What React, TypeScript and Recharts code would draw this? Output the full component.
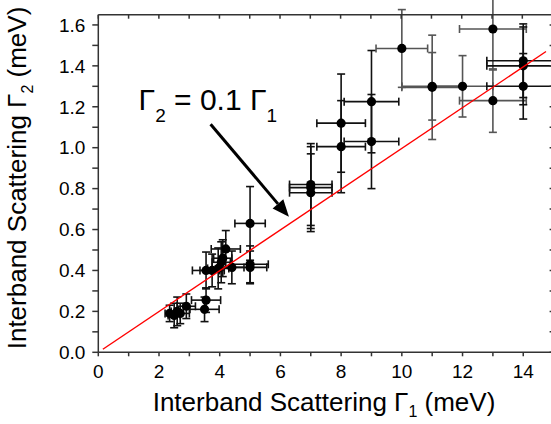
import React from "react";
import { ScatterChart, Scatter, XAxis, YAxis, ErrorBar, ReferenceLine } from "recharts";

// measured points: Gamma1 (x), Gamma2 (y), with errors in both directions
const gamma1 = [2.35, 2.5, 2.6, 2.7, 2.9, 3.5, 3.55, 3.55, 3.75, 3.95, 4.05, 4.1, 4.2, 4.4, 5.0, 5.0, 5.0, 7.0, 7.0, 7.0, 8.0, 8.0, 9.0, 9.0, 10.0, 11.0, 11.0, 12.0, 13.0, 13.0, 14.0, 14.0, 14.0];
const gamma2 = [0.19, 0.18, 0.2, 0.19, 0.225, 0.21, 0.255, 0.4, 0.4, 0.41, 0.44, 0.46, 0.505, 0.415, 0.63, 0.43, 0.415, 0.82, 0.805, 0.78, 1.12, 1.005, 1.225, 1.03, 1.485, 1.3, 1.295, 1.3, 1.58, 1.23, 1.425, 1.4, 1.3];
const gamma1Err = [0.15, 0.2, 0.2, 0.3, 0.3, 0.48, 0.48, 0.45, 0.4, 0.35, 0.3, 0.3, 0.48, 0.4, 0.5, 0.6, 0.55, 0.7, 0.7, 0.7, 0.8, 0.8, 0.9, 0.9, 0.85, 1.0, 1.0, 1.0, 1.1, 1.1, 1.2, 1.2, 1.2];
const gamma2Err = [0.04, 0.06, 0.07, 0.05, 0.06, 0.06, 0.06, 0.09, 0.08, 0.1, 0.1, 0.09, 0.09, 0.08, 0.18, 0.09, 0.08, 0.2, 0.2, 0.19, 0.24, 0.225, 0.25, 0.23, 0.19, 0.165, 0.255, 0.15, 0.2, 0.155, 0.18, 0.19, 0.16];
// 1 = error bars drawn black, 0 = drawn grey
const barTone = [1, 1, 1, 1, 1, 1, 1, 1, 1, 1, 1, 1, 1, 1, 1, 1, 1, 1, 1, 1, 1, 1, 1, 1, 0, 0, 0, 0, 0, 0, 1, 1, 1];

// fitted line Gamma2 = 0.1 Gamma1
const fitX = [0.15, 14.75];
const fitY = [0.015, 1.47];

// annotation arrow (data coords)
const arrowFrom = { x: 3.7, y: 1.115 };
const arrowTo = { x: 6.28, y: 0.662 };

const xTicks = [0, 1, 2, 3, 4, 5, 6, 7, 8, 9, 10, 11, 12, 13, 14, 15];
const yTicks = [0, 0.1, 0.2, 0.3, 0.4, 0.5, 0.6, 0.7, 0.8, 0.9, 1.0, 1.1, 1.2, 1.3, 1.4, 1.5, 1.6];
const X_MAX = 15;
const Y_MAX = 1.65;

// plot box geometry
const PLOT_TOP = 14.7;
const PLOT_LEFT = 98.3;
const CHART_W = 560;
const RIGHT_MARGIN = 6.4;
const PLOT_W = CHART_W - RIGHT_MARGIN - 1 - PLOT_LEFT;

const FONT = '"Liberation Sans", Arial, Helvetica, sans-serif';
const AXIS = "#333";

const points = gamma1.map((x, i) => ({ x, y: gamma2[i], xe: gamma1Err[i], ye: gamma2Err[i], tone: barTone[i] }));
const blackPts = points.filter((p) => p.tone === 1);
const greyPts = points.filter((p) => p.tone === 0);
const fitData = fitX.map((x, i) => ({ x, y: fitY[i] }));

const Dot = (p: any) => <circle cx={p.cx} cy={p.cy} r={4.6} fill="#000" />;

const Arrow = (p: any) => {
  const { x1, y1, x2, y2 } = p;
  const ang = Math.atan2(y2 - y1, x2 - x1);
  const L = 17;
  const W = 7;
  const bx = x2 - L * Math.cos(ang);
  const by = y2 - L * Math.sin(ang);
  const px = -Math.sin(ang) * W;
  const py = Math.cos(ang) * W;
  return (
    <g>
      <line x1={x1} y1={y1} x2={bx} y2={by} stroke="#000" strokeWidth={3} />
      <polygon points={`${x2},${y2} ${bx + px},${by + py} ${bx - px},${by - py}`} fill="#000" />
      <text x={x1 - 72} y={y1 - 14} fontFamily={FONT} fontSize={30} fill="#000">
        Γ<tspan dy={12} fontSize={19}>2</tspan>
        <tspan dy={-12}> = 0.1 Γ</tspan>
        <tspan dy={12} fontSize={19}>1</tspan>
      </text>
    </g>
  );
};

// x-axis title, plus the top frame line with its inward ticks
const XTitle = () => (
  <g>
    <path d={`M${PLOT_LEFT},${PLOT_TOP}H${PLOT_LEFT + PLOT_W}`} stroke={AXIS} strokeWidth={1.5} fill="none" />
    {xTicks.map((t) => {
      const tx = PLOT_LEFT + (t / X_MAX) * PLOT_W;
      return <path key={t} d={`M${tx},${PLOT_TOP}V${PLOT_TOP + 4}`} stroke={AXIS} strokeWidth={1.5} fill="none" />;
    })}
    <text x={324} y={411} textAnchor="middle" fontFamily={FONT} fontSize={26} fill="#000">
      Interband Scattering Γ<tspan dy={6} fontSize={16}>1</tspan>
      <tspan dy={-6}> (meV)</tspan>
    </text>
  </g>
);

export default function App() {
  return (
    <div style={{ position: "absolute", left: 0, top: 0, width: 551, height: 424, overflow: "hidden", background: "#fff" }}>
      <ScatterChart width={CHART_W} height={424} margin={{ top: PLOT_TOP, right: RIGHT_MARGIN, left: 0, bottom: 0 }}>
        <XAxis
          type="number"
          dataKey="x"
          domain={[0, X_MAX]}
          ticks={xTicks}
          allowDataOverflow
          stroke={AXIS}
          strokeWidth={1.5}
          height={71.7}
          tickSize={4}
          tickMargin={8}
          tickFormatter={(v: number) => (v % 2 === 0 && v < 15 ? String(v) : "")}
          tick={{ fill: "#000", fontSize: 19, fontFamily: FONT }}
          label={{ content: XTitle }}
        />
        <YAxis
          type="number"
          dataKey="y"
          domain={[0, Y_MAX]}
          ticks={yTicks}
          allowDataOverflow
          width={PLOT_LEFT}
          stroke={AXIS}
          strokeWidth={1.5}
          tickSize={6}
          tickMargin={7}
          tickFormatter={(v: number) => (Math.round(v * 10) % 2 === 0 ? v.toFixed(1) : "")}
          tick={{ fill: "#000", fontSize: 19, fontFamily: FONT }}
          label={{
            content: () => (
              <text
                x={0}
                y={0}
                transform="translate(26 178) rotate(-90)"
                textAnchor="middle"
                fontFamily={FONT}
                fontSize={26}
                fill="#000"
              >
                Interband Scattering Γ<tspan dy={7} fontSize={16}>2</tspan>
                <tspan dy={-7}> (meV)</tspan>
              </text>
            ),
          }}
        />
        <YAxis
          yAxisId="right"
          orientation="right"
          type="number"
          dataKey="y"
          domain={[0, Y_MAX]}
          ticks={yTicks}
          allowDataOverflow
          mirror
          width={1}
          stroke={AXIS}
          strokeWidth={1.5}
          tickSize={4}
          tickFormatter={() => ""}
        />
        <Scatter data={greyPts} shape={Dot} isAnimationActive={false}>
          <ErrorBar dataKey="xe" direction="x" width={4} stroke="#555" strokeWidth={1.6} />
          <ErrorBar dataKey="ye" direction="y" width={4} stroke="#555" strokeWidth={1.6} />
        </Scatter>
        <Scatter data={blackPts} shape={Dot} isAnimationActive={false}>
          <ErrorBar dataKey="xe" direction="x" width={4} stroke="#111" strokeWidth={1.6} />
          <ErrorBar dataKey="ye" direction="y" width={4} stroke="#111" strokeWidth={1.6} />
        </Scatter>
        <Scatter
          data={fitData}
          yAxisId="right"
          line={{ stroke: "#ff0000", strokeWidth: 1.4 }}
          shape={() => <g />}
          isAnimationActive={false}
        />
        <ReferenceLine segment={[arrowFrom, arrowTo]} shape={Arrow} />
      </ScatterChart>
    </div>
  );
}
